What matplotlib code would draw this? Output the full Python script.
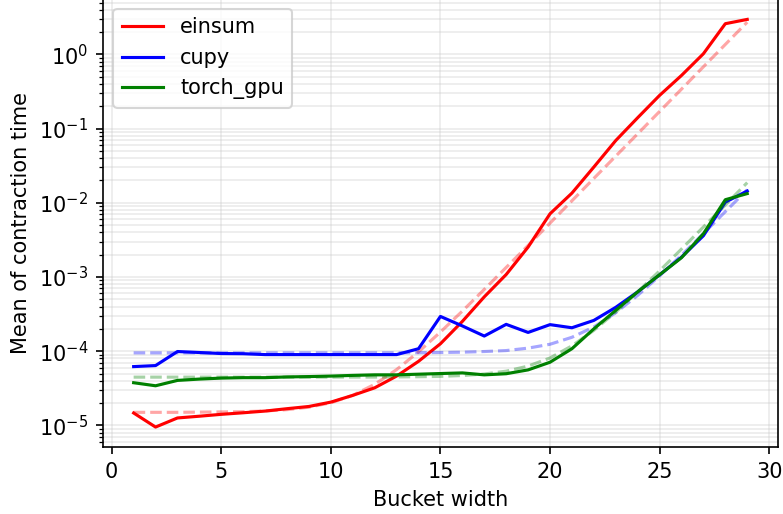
import numpy as np
import matplotlib
matplotlib.use("Agg")
import matplotlib.pyplot as plt

# bucket widths
widths = list(range(1, 30))

# mean contraction time per backend
einsum = [1.47e-5, 9.5e-6, 1.26e-5, 1.33e-5, 1.41e-5, 1.48e-5, 1.56e-5, 1.68e-5, 1.80e-5, 2.06e-5,
          2.54e-5, 3.21e-5, 4.62e-5, 7.3e-5, 1.26e-4, 2.52e-4, 5.4e-4, 1.08e-3, 2.53e-3, 7.1e-3,
          1.35e-2, 3.03e-2, 6.9e-2, 0.140, 0.28, 0.52, 1.02, 2.59, 2.96]
cupy = [6.2e-5, 6.4e-5, 9.9e-5, 9.6e-5, 9.3e-5, 9.25e-5, 9.0e-5, 9.0e-5, 9.0e-5, 9.0e-5,
        9.0e-5, 9.0e-5, 9.0e-5, 1.08e-4, 2.94e-4, 2.19e-4, 1.60e-4, 2.30e-4, 1.79e-4, 2.28e-4,
        2.07e-4, 2.6e-4, 3.9e-4, 6.3e-4, 1.07e-3, 1.85e-3, 3.6e-3, 1.02e-2, 1.44e-2]
torch_gpu = [3.76e-5, 3.42e-5, 4.04e-5, 4.21e-5, 4.34e-5, 4.4e-5, 4.4e-5, 4.5e-5, 4.55e-5, 4.62e-5,
             4.72e-5, 4.8e-5, 4.8e-5, 4.9e-5, 5.0e-5, 5.1e-5, 4.8e-5, 4.97e-5, 5.6e-5, 7.1e-5,
             1.08e-4, 2.0e-4, 3.55e-4, 6.3e-4, 1.07e-3, 1.82e-3, 3.83e-3, 1.10e-2, 1.33e-2]

# fitted curves (dashed)
einsum_fit = [1.50e-5, 1.50e-5, 1.50e-5, 1.51e-5, 1.52e-5, 1.53e-5, 1.565e-5, 1.63e-5, 1.76e-5, 2.02e-5,
              2.54e-5, 3.58e-5, 5.65e-5, 9.8e-5, 1.81e-4, 3.47e-4, 6.8e-4, 1.345e-3, 2.66e-3, 5.32e-3,
              1.063e-2, 2.13e-2, 4.25e-2, 8.5e-2, 0.170, 0.340, 0.680, 1.36, 2.72]
cupy_fit = [9.5e-5, 9.5e-5, 9.5e-5, 9.5e-5, 9.5e-5, 9.5e-5, 9.5e-5, 9.5e-5, 9.5e-5, 9.5e-5,
            9.5e-5, 9.51e-5, 9.52e-5, 9.55e-5, 9.6e-5, 9.7e-5, 9.9e-5, 1.02e-4, 1.10e-4, 1.24e-4,
            1.54e-4, 2.12e-4, 3.3e-4, 5.65e-4, 1.035e-3, 1.97e-3, 3.85e-3, 7.6e-3, 1.5e-2]
torch_fit = [4.47e-5, 4.47e-5, 4.47e-5, 4.47e-5, 4.47e-5, 4.47e-5, 4.47e-5, 4.47e-5, 4.47e-5, 4.47e-5,
             4.48e-5, 4.48e-5, 4.5e-5, 4.53e-5, 4.58e-5, 4.7e-5, 4.93e-5, 5.38e-5, 6.3e-5, 8.1e-5,
             1.18e-4, 1.91e-4, 3.37e-4, 6.3e-4, 1.21e-3, 2.38e-3, 4.72e-3, 9.34e-3, 1.87e-2]

series = [("einsum", einsum, einsum_fit, "red"),
          ("cupy", cupy, cupy_fit, "blue"),
          ("torch_gpu", torch_gpu, torch_fit, "green")]

DPI = 150
fig = plt.figure(figsize=(783 / DPI, 514 / DPI), dpi=DPI)
ax = fig.add_axes([0.1315, 0.1305, 0.862, 0.872])

for name, vals, fit, col in series:
    ax.plot(widths, vals, color=col, label=name)
    ax.plot(widths, fit, color=col, linestyle="--", alpha=0.35)

ax.set_yscale("log")
ax.set_ylim(10 ** -5.29, 10 ** 0.75)
ax.grid(which="both", color="#cccccc", alpha=0.4, linewidth=0.8)
ax.set_xlabel("Bucket width")
ax.set_ylabel("Mean of contraction time")
ax.legend(loc="upper left")

fig.savefig("out.png", dpi=DPI)
